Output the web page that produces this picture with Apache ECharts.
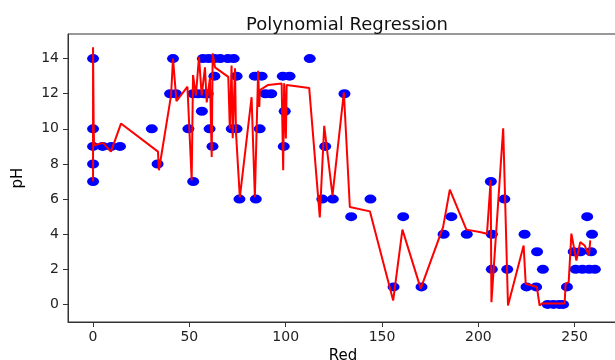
<!DOCTYPE html>
<html>
<head>
<meta charset="utf-8">
<script src="https://cdn.jsdelivr.net/npm/echarts@6/dist/echarts.min.js"></script>
<style>
  html, body { margin: 0; padding: 0; background: #fff; }
  #chart { width: 615px; height: 360px; }
</style>
</head>
<body>
<div id="chart"></div>
<script>
// measured points (Red value, pH label), grouped by pH row
var dotRed = [
    0, 41.5, 57, 60, 63, 66, 70, 73, 112.5,          // pH 14
    63, 74.5, 84, 87.5, 98.5, 102,                     // pH 13
    40, 43, 52, 54.5, 57.5, 59.5, 89.5, 92.5, 130.5,   // pH 12
    56.5, 99.5,                                        // pH 11
    0, 30.5, 49.5, 60.5, 72, 74.5, 86.5,               // pH 10
    0, 5, 9.5, 14, 62, 99, 120.5,                      // pH 9
    0, 33.5,                                           // pH 8
    0, 52, 206.5,                                      // pH 7
    76, 84.5, 119, 124.5, 144, 213.5,                  // pH 6
    134, 161, 186, 256.5,                              // pH 5
    182, 194, 207, 224, 259,                           // pH 4
    230.5, 249.5, 253, 258.5,                          // pH 3
    207, 215, 233.5, 250.5, 254, 257.5, 260.5,         // pH 2
    156, 170.5, 225, 230, 246,                         // pH 1
    236, 239, 242, 244                                 // pH 0
];
var dotPh = [
    14, 14, 14, 14, 14, 14, 14, 14, 14,
    13, 13, 13, 13, 13, 13,
    12, 12, 12, 12, 12, 12, 12, 12, 12,
    11, 11,
    10, 10, 10, 10, 10, 10, 10,
    9, 9, 9, 9, 9, 9, 9,
    8, 8,
    7, 7, 7,
    6, 6, 6, 6, 6, 6,
    5, 5, 5, 5,
    4, 4, 4, 4, 4,
    3, 3, 3, 3,
    2, 2, 2, 2, 2, 2, 2,
    1, 1, 1, 1, 1,
    0, 0, 0, 0
];

// fitted curve, in the order it is drawn
var fitRed = [0, 0, 0.3, 0.5, 5.2, 9.3, 14.5, 33.7, 34.2, 40.5, 41.5, 43.3, 49, 51.2, 51.9, 53.4,
    55, 56.4, 58.1, 59, 60.7, 61.6, 62.1, 63.3, 70.2, 71, 71.9, 72.5, 73.7, 74.2, 76.2, 82.3,
    84, 85.7, 86.3, 86.6, 90.9, 97.9, 98.7, 99.2, 100.1, 100.5, 112.2, 117.7, 120, 124.3, 130.2,
    133.3, 143.7, 155.8, 160.6, 170.1, 181.7, 185.2, 193.8, 200.7, 204.5, 206.4, 206.8, 212.9,
    215.4, 223.5, 224.6, 230.4, 231.8, 233.2, 244.8, 245.3, 246.9, 248.3, 250.9, 252.9, 255.2,
    257.4, 258.1];
var fitPh = [7.0, 14.65, 10.5, 9.06, 9.2, 8.7, 10.3, 8.7, 7.64, 11.9, 14.0, 11.57, 12.4, 7.07, 13.06, 11.9,
    14.1, 11.9, 13.5, 11.5, 12.9, 8.4, 14.3, 13.5, 12.96, 10.0, 13.6, 9.46, 13.45, 9.8, 6.1, 11.8,
    6.1, 13.3, 11.25, 12.2, 12.5, 12.58, 7.64, 12.6, 9.45, 12.5, 12.33, 4.96, 10.17, 6.2, 12.07,
    5.55, 5.3, 0.23, 4.26, 0.9, 4.4, 6.54, 4.26, 4.12, 4.03, 7.07, 0.13, 10.03,
    -0.06, 3.36, 1.18, 0.99, -0.06, 0.06, 0.06, 1.18, 1.27, 4.03, 2.5, 3.55, 3.36,
    2.79, 3.65];

var xTicks = [0, 50, 100, 150, 200, 250];
var yTicks = [0, 2, 4, 6, 8, 10, 12, 14];

var font = 'DejaVu Sans';
var myChart = echarts.init(document.getElementById('chart'));

var option = {
    animation: false,
    backgroundColor: '#fff',
    title: {
        text: 'Polynomial Regression',
        left: 342,
        top: 11,
        textAlign: 'center',
        textStyle: { fontFamily: font, fontSize: 18, fontWeight: 'normal', color: '#111' }
    },
    grid: {
        left: 68, top: 34, right: -3, bottom: 38,
        outerBoundsMode: 'none',
        show: true, borderColor: '#333', borderWidth: 1
    },
    xAxis: {
        type: 'value',
        min: -13, max: 272.5,
        name: 'Red', nameLocation: 'middle', nameGap: 24,
        nameTextStyle: { fontFamily: font, fontSize: 15, color: '#000', verticalAlign: 'top' },
        axisLine: { show: true, onZero: false, lineStyle: { color: '#333' } },
        axisTick: { show: true, length: 5, customValues: xTicks, lineStyle: { color: '#333' } },
        axisLabel: { customValues: xTicks, margin: 8, fontFamily: font, fontSize: 14, color: '#222' },
        splitLine: { show: false }
    },
    yAxis: {
        type: 'value',
        min: -1.0, max: 15.4,
        name: 'pH', nameLocation: 'middle', nameGap: 42, nameRotate: 90,
        nameTextStyle: { fontFamily: font, fontSize: 15, color: '#000' },
        axisLine: { show: true, onZero: false, lineStyle: { color: '#333' } },
        axisTick: { show: true, length: 5, customValues: yTicks, lineStyle: { color: '#333' } },
        axisLabel: { customValues: yTicks, margin: 9, fontFamily: font, fontSize: 14, color: '#222' },
        splitLine: { show: false }
    },
    series: [
        {
            type: 'scatter',
            data: dotRed.map(function (r, i) { return [r, dotPh[i]]; }),
            symbol: 'circle',
            symbolSize: [12, 9],
            itemStyle: { color: '#0000ff', opacity: 1 },
            z: 2
        },
        {
            type: 'line',
            data: fitRed.map(function (r, i) { return [r, fitPh[i]]; }),
            showSymbol: false,
            lineStyle: { color: '#ff0000', width: 2 },
            z: 3
        }
    ]
};

option && myChart.setOption(option);
</script>
</body>
</html>
